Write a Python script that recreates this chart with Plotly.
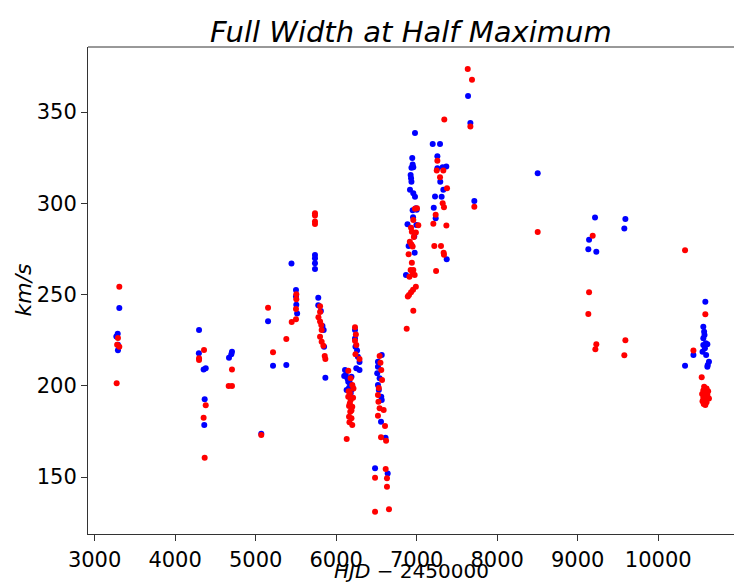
import plotly.graph_objects as go

# ---- data ----
blue_hjd = [3307, 3287, 3270, 3290, 3290,
            4297, 4295, 4354, 4380, 4367, 4362,
            4706, 4698, 4669,
            5070, 5154, 5216, 5381, 5445,
            5501, 5501, 5505, 5515,
            5737, 5737, 5737, 5737,
            5778, 5778, 5810, 5830, 5845, 5850, 5866,
            6234, 6234, 6240, 6260, 6270, 6290, 6250, 6290, 6110, 6100, 6150, 6170, 6190,
            6130, 6190, 6170, 6140, 6200, 6160, 6120, 6180,
            6566, 6519, 6519, 6510, 6540, 6519, 6530, 6566, 6560, 6557, 6613, 6483, 6640,
            6979, 6945, 6950, 6935, 6958, 6925, 6930, 6935, 6917, 6958, 6979, 6990, 6950,
            7000, 6955, 6886, 6996, 6970, 6900, 6975, 6867,
            7199, 7290, 7257, 7257, 7322, 7368, 7293, 7331, 7228, 7310, 7212, 7236, 7373,
            7638, 7667, 7716,
            8503,
            9215, 9141, 9132, 9231,
            9592, 9579,
            10333, 10437, 10585, 10560, 10570, 10575, 10560, 10590, 10560, 10610, 10580,
            10550, 10595, 10630, 10615, 10610]
blue_fwhm = [242.7, 228.6, 227.1, 222.5, 219.5,
             230.6, 217.8, 209.0, 209.6, 192.6, 178.5,
             218.7, 217.3, 215.4,
             173.8, 235.4, 211.0, 211.4, 267.0,
             252.5, 248.9, 244.5, 239.6,
             271.7, 269.9, 267.2, 264.1,
             248.3, 244.1, 241.0, 232.8, 230.6, 221.4, 204.5,
             230.6, 226.0, 221.4, 219.4, 216.0, 213.0, 209.6, 208.7, 208.7, 205.4, 202.2, 201.4, 205.0,
             197.7, 197.7, 194.0, 204.0, 200.0, 199.0, 206.0, 196.0,
             216.9, 213.2, 210.5, 206.9, 204.1, 200.4, 197.7, 192.2, 194.0, 180.3, 171.6, 154.8, 152.0,
             338.5, 324.8, 321.3, 319.5, 319.8, 315.6, 313.8, 311.9, 307.4, 305.6, 303.6, 297.3, 296.2,
             296.5, 292.4, 288.6, 288.2, 281.8, 276.7, 273.0, 260.8,
             332.5, 332.5, 325.8, 319.3, 319.8, 320.2, 311.9, 307.4, 303.7, 303.6, 297.6, 291.9, 269.4,
             358.9, 344.0, 301.3,
             316.5,
             292.2, 280.0, 274.9, 273.5,
             291.5, 286.2,
             211.0, 216.9, 246.1, 232.4, 229.7, 227.9, 226.1, 223.3, 222.4, 222.8, 220.6,
             218.7, 216.9, 213.2, 211.4, 210.5]

red_hjd = [3307, 3290, 3280, 3307, 3274,
           4359, 4297, 4297, 4380, 4354, 4367,
           4706, 4665, 4706,
           5070, 5154, 5216, 5381,
           5448, 5505, 5505, 5501, 5501,
           5737, 5737, 5737, 5737,
           5800, 5800, 5780, 5800, 5815, 5820, 5800, 5820, 5841, 5858, 5866,
           6234, 6245, 6234, 6250, 6240, 6290, 6151, 6180, 6200, 6215, 6170, 6150, 6180,
           6160, 6200, 6175, 6160, 6190, 6200, 6131, 6170, 6190, 6155, 6210, 6165,
           6540, 6550, 6560, 6570, 6530, 6519, 6525, 6540, 6590, 6519, 6607, 6557, 6620,
           6483, 6615, 6631, 6631, 6483, 6656,
           6979, 7004, 6958, 7020, 6930, 6940, 6990, 6965, 6915, 6935, 6950, 6900, 6940,
           6958, 6925, 6950, 6975, 6910, 6990, 6955, 6930, 6905, 6890, 6958, 6876,
           7343, 7257, 7249, 7331, 7290, 7377, 7323, 7339, 7236, 7207, 7369, 7219, 7302,
           7335, 7339, 7241,
           7634, 7687, 7667, 7716,
           8503,
           9186, 9141, 9132, 9231, 9219,
           9592, 9579,
           10333, 10437, 10585, 10540,
           10570, 10600, 10560, 10620, 10580, 10545, 10610, 10590, 10560, 10630, 10575,
           10550, 10600, 10565, 10585]
red_fwhm = [254.3, 226.2, 222.5, 221.4, 201.4,
            219.6, 215.1, 214.1, 189.3, 182.5, 160.6,
            209.0, 199.9, 199.9,
            173.0, 242.8, 218.4, 225.7,
            235.0, 250.2, 247.4, 242.1, 236.5,
            294.6, 293.3, 290.0, 288.7,
            243.6, 240.4, 237.6, 235.2, 233.3, 230.6, 226.9, 224.2, 222.0, 216.3, 214.7,
            232.1, 228.2, 224.7, 222.4, 217.3, 214.7, 208.3, 204.1, 200.4, 198.6, 195.9, 194.0, 192.2,
            188.9, 188.5, 185.8, 183.1, 182.2, 178.5, 170.8, 190.5, 186.5, 197.0, 193.5, 180.0,
            216.3, 212.7, 208.7, 203.2, 198.8, 195.0, 191.3, 187.7, 186.7, 183.6, 178.0, 171.8, 169.9,
            149.6, 154.4, 149.3, 144.7, 131.0, 132.3,
            297.0, 297.3, 290.9, 288.0, 286.7, 284.5, 284.0, 281.6, 279.0, 277.5, 276.3, 272.1, 267.5,
            263.5, 263.5, 261.7, 260.8, 259.8, 254.3, 252.7, 251.3, 249.8, 248.9, 241.2, 231.3,
            346.0, 323.4, 318.0, 318.0, 314.3, 308.3, 300.1, 297.9, 293.7, 288.8, 287.9, 276.6, 276.6,
            273.0, 271.9, 263.0,
            373.6, 367.7, 342.1, 298.1,
            284.3,
            282.2, 251.3, 239.4, 222.8, 220.0,
            225.0, 216.7,
            274.3, 219.3, 239.2, 204.7,
            199.5, 198.5, 197.5, 197.0, 196.0, 195.5, 195.0, 194.0, 193.5, 193.0, 192.0,
            191.5, 191.0, 190.0, 189.5]

x_ticks = [3000, 4000, 5000, 6000, 7000, 8000, 9000, 10000]
x_tick_labels = ["3000", "4000", "5000", "6000", "7000", "8000", "9000", "10000"]
y_ticks = [150, 200, 250, 300, 350]
y_tick_labels = ["150", "200", "250", "300", "350"]

title_text = "<i>Full Width at Half Maximum</i>"
xlabel_text = "<i>HJD</i> \u2212 2450000"
ylabel_text = "<i>km/s</i>"

axis_color = "#333333"

fig = go.Figure()
fig.add_trace(go.Scatter(x=blue_hjd, y=blue_fwhm, mode="markers",
                         marker=dict(color="#0000ff", size=6, line=dict(width=0)),
                         showlegend=False))
fig.add_trace(go.Scatter(x=red_hjd, y=red_fwhm, mode="markers",
                         marker=dict(color="#ff0000", size=6, line=dict(width=0)),
                         showlegend=False))

fig.update_layout(
    width=734, height=585,
    margin=dict(l=88, r=0, t=47, b=51),
    plot_bgcolor="white", paper_bgcolor="white",
    font=dict(family="DejaVu Sans", size=21, color="black"),
    xaxis=dict(range=[2918, 10941], tickvals=x_ticks, ticktext=x_tick_labels,
               ticks="outside", ticklen=6, ticklabelstandoff=1,
               tickcolor=axis_color, showline=True, linecolor=axis_color, linewidth=1,
               showgrid=False, zeroline=False, tickfont=dict(size=21)),
    yaxis=dict(range=[118.8, 385.7], tickvals=y_ticks, ticktext=y_tick_labels,
               ticks="outside", ticklen=6,
               tickcolor=axis_color, showline=True, linecolor=axis_color, linewidth=1,
               showgrid=False, zeroline=False, tickfont=dict(size=21)),
    shapes=[dict(type="line", xref="paper", yref="paper", x0=0, x1=1, y0=1, y1=1,
                 line=dict(color=axis_color, width=1))],
    annotations=[
        dict(text=title_text, xref="paper", yref="paper", x=0.5, y=1.031,
             xanchor="center", yanchor="middle", showarrow=False,
             font=dict(size=29, family="DejaVu Sans")),
        dict(text=xlabel_text, xref="paper", yref="paper", x=0.5, y=-0.076,
             xanchor="center", yanchor="middle", showarrow=False,
             font=dict(size=20, family="DejaVu Sans")),
        dict(text=ylabel_text, xref="paper", yref="paper", x=-0.1006, y=0.5,
             xanchor="center", yanchor="middle", textangle=-90, showarrow=False,
             font=dict(size=22, family="DejaVu Sans")),
    ],
)

fig.write_html("out.html", config={"displayModeBar": False})
